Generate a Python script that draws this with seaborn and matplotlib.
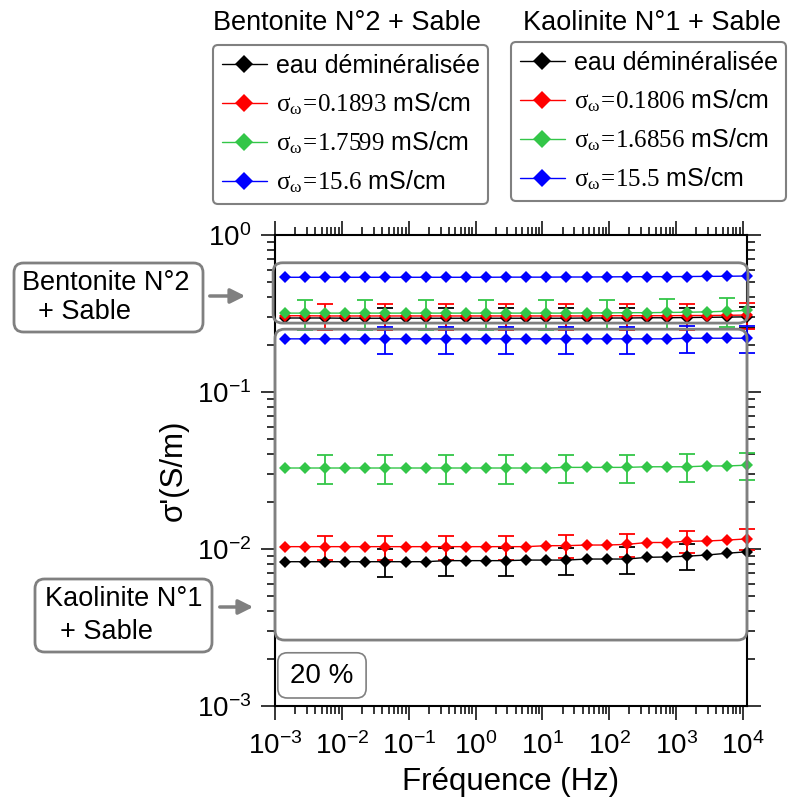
import matplotlib
matplotlib.use('Agg')
import numpy as np
import seaborn as sns
import matplotlib.pyplot as plt
from matplotlib.patches import FancyBboxPatch, FancyArrowPatch
from matplotlib.ticker import LogLocator, NullFormatter

# frequencies (Hz)
freq = [0.0014, 0.0028, 0.0056, 0.0112, 0.0224, 0.0448, 0.0896, 0.179,
        0.358, 0.717, 1.43, 2.87, 5.73, 11.5, 22.9, 45.9,
        91.8, 184, 367, 734, 1470, 2940, 5870, 11500]

# Bentonite N°2 + Sable (S/m)
bent_eau = [0.296, 0.296, 0.296, 0.295, 0.295, 0.295, 0.295, 0.295,
            0.295, 0.295, 0.295, 0.295, 0.295, 0.295, 0.295, 0.296,
            0.296, 0.296, 0.297, 0.297, 0.298, 0.299, 0.300, 0.301]
bent_s1 = [0.306, 0.306, 0.305, 0.305, 0.305, 0.305, 0.305, 0.305,
           0.305, 0.305, 0.305, 0.305, 0.305, 0.305, 0.305, 0.305,
           0.306, 0.306, 0.306, 0.306, 0.307, 0.307, 0.308, 0.309]
bent_s2 = [0.318, 0.318, 0.318, 0.318, 0.318, 0.318, 0.318, 0.318,
           0.318, 0.318, 0.318, 0.318, 0.318, 0.318, 0.318, 0.319,
           0.319, 0.320, 0.320, 0.321, 0.322, 0.324, 0.327, 0.331]
bent_s3 = [0.538, 0.538, 0.538, 0.538, 0.538, 0.538, 0.538, 0.538,
           0.538, 0.538, 0.538, 0.539, 0.539, 0.539, 0.540, 0.540,
           0.541, 0.542, 0.543, 0.543, 0.544, 0.545, 0.546, 0.548]

# Kaolinite N°1 + Sable (S/m)
kaol_eau = [0.0083, 0.0083, 0.0083, 0.0083, 0.0083, 0.0083, 0.0083, 0.0083,
            0.00843, 0.00843, 0.00843, 0.00843, 0.0085, 0.0085, 0.0085, 0.00863,
            0.00863, 0.00863, 0.00885, 0.0089, 0.0090, 0.00916, 0.0094, 0.0096]
kaol_s1 = [0.01035, 0.01035, 0.01035, 0.01035, 0.01035, 0.01035, 0.01035, 0.01035,
           0.01035, 0.01035, 0.01035, 0.01035, 0.01035, 0.0105, 0.0105, 0.0106,
           0.0106, 0.0107, 0.0110, 0.0110, 0.0112, 0.01125, 0.0114, 0.0116]
kaol_s2 = [0.0328, 0.0328, 0.0328, 0.0328, 0.0328, 0.0328, 0.0328, 0.0328,
           0.0328, 0.0328, 0.0328, 0.0328, 0.0328, 0.0328, 0.0331, 0.0331,
           0.0331, 0.0331, 0.0334, 0.0334, 0.0334, 0.0338, 0.0338, 0.0342]
kaol_s3 = [0.218, 0.218, 0.218, 0.218, 0.218, 0.218, 0.218, 0.218,
           0.218, 0.218, 0.218, 0.218, 0.218, 0.218, 0.218, 0.218,
           0.218, 0.218, 0.218, 0.218, 0.220, 0.220, 0.220, 0.220]

# points that carry an error bar, and the error sizes (S/m)
idx_a = [1, 4, 7, 10, 13, 16, 19, 22]
idx_b = [2, 5, 8, 11, 14, 17, 20, 23]
idx_c = [5, 8, 11, 14, 17, 20, 23]
idx_d = [5, 8, 11, 14, 17, 20]
bent_err = {'eau': 0.047, 's1': 0.058, 's2': 0.068}
kaol_err = {'eau': 0.0017, 's1': 0.0018, 's2': 0.0067, 's3': 0.043}

labels_bent = ['eau déminéralisée',
               r'$\mathrm{\sigma_{\omega}\!=\!0.1893}$ mS/cm',
               r'$\mathrm{\sigma_{\omega}\!=\!1.7599}$ mS/cm',
               r'$\mathrm{\sigma_{\omega}\!=\!15.6}$ mS/cm']
labels_kaol = ['eau déminéralisée',
               r'$\mathrm{\sigma_{\omega}\!=\!0.1806}$ mS/cm',
               r'$\mathrm{\sigma_{\omega}\!=\!1.6856}$ mS/cm',
               r'$\mathrm{\sigma_{\omega}\!=\!15.5}$ mS/cm']

colors = ['black', '#ff0000', '#33c648', '#0000ff']

sns.set_style('ticks')
plt.rcParams['font.family'] = ['Liberation Sans', 'DejaVu Sans']
plt.rcParams['mathtext.fontset'] = 'custom'
plt.rcParams['mathtext.rm'] = 'Liberation Serif'
plt.rcParams['mathtext.it'] = 'Liberation Serif:italic'
plt.rcParams['mathtext.bf'] = 'Liberation Serif:bold'
plt.rcParams['text.color'] = 'black'
plt.rcParams['axes.labelcolor'] = 'black'
plt.rcParams['xtick.color'] = 'black'
plt.rcParams['ytick.color'] = 'black'

W, H = 790, 801
fig = plt.figure(figsize=(W / 100, H / 100), dpi=100)
ax = fig.add_axes([275 / W, 1 - 706 / H, 472 / W, 471 / H])
ax.set_xscale('log')
ax.set_yscale('log')


def add_series(vals, color, err=None, idx=None):
    sns.lineplot(x=freq, y=vals, ax=ax, color=color, lw=1, marker='D',
                 markersize=6.2, markeredgewidth=0, clip_on=False, zorder=4)
    handle = ax.lines[-1]
    if err is not None:
        ax.errorbar([freq[i] for i in idx], [vals[i] for i in idx], yerr=err,
                    fmt='none', ecolor=color, elinewidth=1.3, capsize=6,
                    capthick=1.3, zorder=3, clip_on=False)
    return handle


h_bent = [add_series(bent_eau, colors[0], bent_err['eau'], idx_c),
          add_series(bent_s1, colors[1], bent_err['s1'], idx_b),
          add_series(bent_s2, colors[2], bent_err['s2'], idx_a),
          add_series(bent_s3, colors[3])]
h_kaol = [add_series(kaol_eau, colors[0], kaol_err['eau'], idx_d),
          add_series(kaol_s1, colors[1], kaol_err['s1'], idx_b),
          add_series(kaol_s2, colors[2], kaol_err['s2'], idx_b),
          add_series(kaol_s3, colors[3], kaol_err['s3'], idx_c)]

ax.set_xlim(1e-3, 1.15e4)
ax.set_ylim(1e-3, 1)
ax.xaxis.set_major_locator(LogLocator(base=10, numticks=20))
ax.xaxis.set_minor_locator(LogLocator(base=10, subs=np.arange(2, 10), numticks=20))
ax.xaxis.set_minor_formatter(NullFormatter())
ax.yaxis.set_minor_locator(LogLocator(base=10, subs=np.arange(2, 10), numticks=20))
ax.yaxis.set_minor_formatter(NullFormatter())
ax.tick_params(which='both', direction='out', top=True, right=True,
               width=1.1, color='black', labelsize=20, labelcolor='black')
ax.tick_params(which='major', length=10)
ax.tick_params(which='minor', length=5.5)
ax.tick_params(axis='x', pad=9)
ax.tick_params(axis='y', pad=7)
for s in ax.spines.values():
    s.set_linewidth(1.5)
    s.set_color('black')

ax.set_xlabel('Fréquence (Hz)', fontsize=22.5, labelpad=5)
ax.set_ylabel("σ'(S/m)", fontsize=22.5, labelpad=6)

grey = '#808080'
# group outlines inside the axes
ax.add_patch(FancyBboxPatch((-0.004, 0.813), 1.006, 0.128,
                            boxstyle='round,pad=0,rounding_size=0.02',
                            transform=ax.transAxes, fill=False, ec=grey,
                            lw=2, clip_on=False, zorder=5))
ax.add_patch(FancyBboxPatch((0.0, 0.14), 1.0, 0.66,
                            boxstyle='round,pad=0,rounding_size=0.02',
                            transform=ax.transAxes, fill=False, ec=grey,
                            lw=2, clip_on=False, zorder=5))
ax.add_patch(FancyBboxPatch((0.006, 0.017), 0.187, 0.096,
                            boxstyle='round,pad=0,rounding_size=0.02',
                            transform=ax.transAxes, fill=False, ec=grey,
                            lw=1.2, clip_on=False, zorder=5))
ax.text(0.0995, 0.064, '20 %', transform=ax.transAxes, ha='center',
        va='center', fontsize=20)


def px(x, y):
    return x / W, 1 - y / H


def side_label(x0, y0, x1, y1, line1, line2, l1x, l1y, l2x, l2y, a0, a1, ay):
    fig.add_artist(FancyBboxPatch(px(x0, y1), (x1 - x0) / W, (y1 - y0) / H,
                                  boxstyle='round,pad=0,rounding_size=0.012',
                                  transform=fig.transFigure, fill=False,
                                  ec=grey, lw=2))
    fig.text(*px(l1x, l1y), line1, ha='left', va='center', fontsize=19.5)
    fig.text(*px(l2x, l2y), line2, ha='left', va='center', fontsize=19.5)
    fig.add_artist(FancyArrowPatch(px(a0, ay), px(a1, ay),
                                   transform=fig.transFigure,
                                   arrowstyle='-|>', mutation_scale=22,
                                   color=grey, lw=2.5))


side_label(14, 263, 203, 332, 'Bentonite N°2', '+ Sable', 22, 283, 38, 312, 207, 248, 296)
side_label(35, 579, 212, 652, 'Kaolinite N°1', '+ Sable', 45, 599, 60, 632, 217, 256, 607)

leg_kw = dict(loc='upper left', fontsize=18, frameon=True, fancybox=True,
              edgecolor=grey, framealpha=1, borderpad=0.35, handlelength=1.8,
              handletextpad=0.35, labelspacing=0.5, markerscale=1.4,
              borderaxespad=0)
leg1 = fig.legend(h_bent, labels_bent, bbox_to_anchor=px(213, 45), **leg_kw)
leg2 = fig.legend(h_kaol, labels_kaol, bbox_to_anchor=px(511, 42), **leg_kw)
for leg in (leg1, leg2):
    leg.get_frame().set_linewidth(1.5)

fig.text(*px(347, 23), 'Bentonite N°2 + Sable', ha='center', va='center', fontsize=19.5)
fig.text(*px(652, 23), 'Kaolinite N°1 + Sable', ha='center', va='center', fontsize=19.5)

fig.savefig('out.png', dpi=100)
